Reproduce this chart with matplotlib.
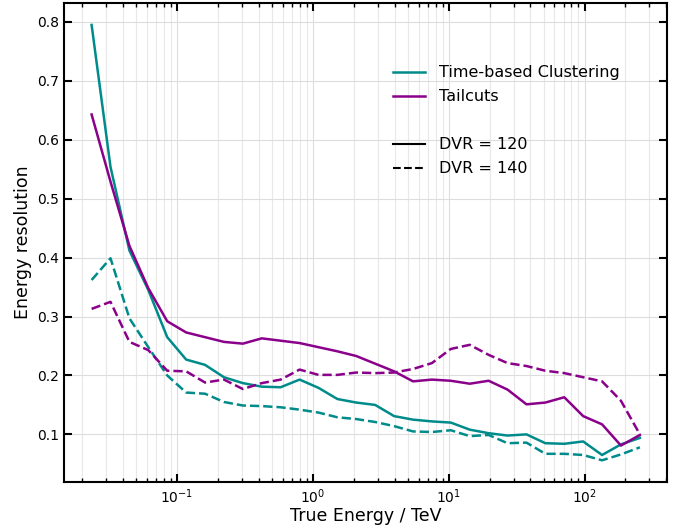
import matplotlib
matplotlib.use("Agg")
import matplotlib.pyplot as plt
from matplotlib.lines import Line2D

# bin centres (TeV)
energy = [0.02348, 0.03234, 0.04457, 0.06141, 0.08462, 0.1166, 0.1606, 0.2213,
          0.3049, 0.4202, 0.5790, 0.7977, 1.099, 1.514, 2.086, 2.875, 3.961,
          5.458, 7.520, 10.36, 14.28, 19.67, 27.10, 37.35, 51.46, 70.91, 97.68,
          134.6, 185.4, 255.5]

tbc_dvr120 = [0.795, 0.554, 0.412, 0.345, 0.265, 0.227, 0.218, 0.197, 0.187, 0.181,
              0.180, 0.193, 0.179, 0.160, 0.154, 0.150, 0.131, 0.125, 0.122, 0.120,
              0.108, 0.102, 0.098, 0.100, 0.085, 0.084, 0.088, 0.065, 0.083, 0.094]
tbc_dvr140 = [0.362, 0.399, 0.297, 0.248, 0.200, 0.171, 0.169, 0.155, 0.149, 0.148,
              0.146, 0.142, 0.137, 0.129, 0.126, 0.121, 0.114, 0.105, 0.104, 0.107,
              0.097, 0.099, 0.085, 0.086, 0.067, 0.067, 0.065, 0.056, 0.066, 0.078]
tail_dvr120 = [0.643, 0.529, 0.420, 0.348, 0.292, 0.273, 0.265, 0.257, 0.254, 0.263,
               0.259, 0.255, 0.248, 0.241, 0.233, 0.220, 0.207, 0.190, 0.193, 0.191,
               0.186, 0.191, 0.176, 0.151, 0.154, 0.163, 0.131, 0.117, 0.081, 0.099]
tail_dvr140 = [0.313, 0.325, 0.257, 0.243, 0.208, 0.207, 0.188, 0.193, 0.177, 0.187,
               0.193, 0.210, 0.201, 0.201, 0.205, 0.204, 0.205, 0.211, 0.221, 0.245,
               0.252, 0.235, 0.221, 0.216, 0.208, 0.204, 0.197, 0.190, 0.157, 0.100]

TEAL = "#008b8b"
PURPLE = "#8b008b"

fig = plt.figure(figsize=(6.83, 5.28), dpi=100)
ax = fig.add_axes([0.094, 0.087, 0.883, 0.907])

ax.plot(energy, tbc_dvr120, color=TEAL, lw=1.8)
ax.plot(energy, tbc_dvr140, color=TEAL, lw=1.8, ls="--")
ax.plot(energy, tail_dvr120, color=PURPLE, lw=1.8)
ax.plot(energy, tail_dvr140, color=PURPLE, lw=1.8, ls="--")

ax.set_xscale("log")
ax.set_xlabel("True Energy / TeV", fontsize=12.5, labelpad=1)
ax.set_ylabel("Energy resolution", fontsize=12.5)

ax.grid(True, which="major", color="#dddddd", lw=0.8)
ax.grid(True, which="minor", axis="x", color="#e8e8e8", lw=0.8)

ax.tick_params(which="both", direction="in", top=True, right=True, labelsize=10)
ax.tick_params(which="major", length=6, width=1.5)
ax.tick_params(which="minor", length=3, width=1)
for sp in ax.spines.values():
    sp.set_linewidth(1.5)

handles = [
    Line2D([], [], color=TEAL, lw=1.8),
    Line2D([], [], color=PURPLE, lw=1.8),
    Line2D([], [], color="none"),
    Line2D([], [], color="black", lw=1.5),
    Line2D([], [], color="black", lw=1.5, ls="--"),
]
labels = ["Time-based Clustering", "Tailcuts", "", "DVR = 120", "DVR = 140"]
ax.legend(handles, labels, loc="upper left", bbox_to_anchor=(0.5215, 0.9),
          frameon=False, fontsize=11.5, labelspacing=0.56, handletextpad=0.9)

fig.savefig("out.png", dpi=100)
